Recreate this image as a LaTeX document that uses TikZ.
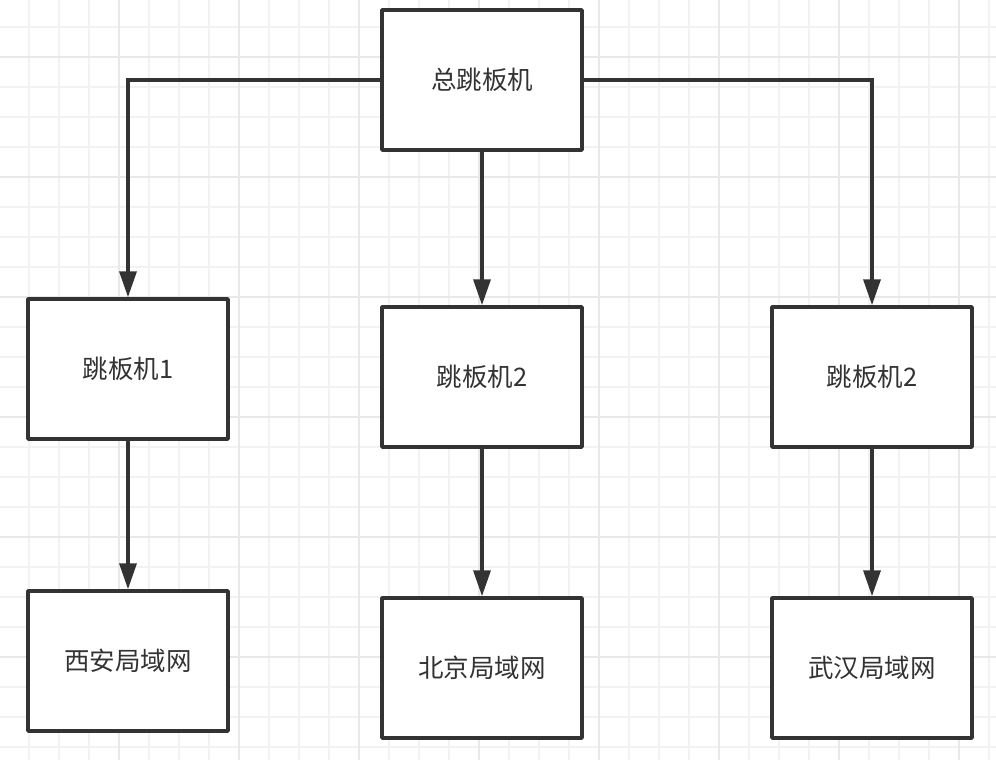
\documentclass[tikz,border=0pt]{standalone}
\usepackage{fontspec}
\newfontfamily\cjk{Noto Sans CJK SC}
\usetikzlibrary{arrows.meta}
\definecolor{ink}{HTML}{333333}
\definecolor{gridminor}{HTML}{F2F2F2}
\definecolor{gridmajor}{HTML}{E8E8E8}
\tikzset{
  box/.style={draw=ink, line width=3.5pt, fill=white, line join=round, minimum width=200pt, minimum height=140pt, inner sep=0pt, text=ink, font=\cjk\fontsize{25.5pt}{30pt}\selectfont},
  conn/.style={draw=ink, line width=3.5pt, line join=miter, -{Triangle[length=26pt,width=17pt]}},
}
\begin{document}
\begin{tikzpicture}[x=1pt,y=-1pt]
\useasboundingbox (0,0) rectangle (996,760);
\fill[white] (0,0) rectangle (996,760);
\foreach \x in {29,59,...,996} \draw[gridminor, line width=1.3pt] (\x,0) -- (\x,760);
\foreach \y in {27,57,...,760} \draw[gridminor, line width=1.3pt] (0,\y) -- (996,\y);
\foreach \x in {119,239,...,996} \draw[gridmajor, line width=1.3pt] (\x,0) -- (\x,760);
\foreach \y in {57,177,...,760} \draw[gridmajor, line width=1.3pt] (0,\y) -- (996,\y);

\node[box] (top) at (482,80) {总跳板机};
\node[box] (j1) at (128,369) {跳板机1};
\node[box] (j2) at (482,377) {跳板机2};
\node[box] (j3) at (872,377) {跳板机2};
\node[box] (xa) at (128,661) {西安局域网};
\node[box] (bj) at (482,668) {北京局域网};
\node[box] (wh) at (872,668) {武汉局域网};

\draw[conn] (top.west) -| (j1.north);
\draw[conn] (top.east) -| (j3.north);
\draw[conn] (top.south) -- (j2.north);
\draw[conn] (j1.south) -- (xa.north);
\draw[conn] (j2.south) -- (bj.north);
\draw[conn] (j3.south) -- (wh.north);
\end{tikzpicture}
\end{document}
